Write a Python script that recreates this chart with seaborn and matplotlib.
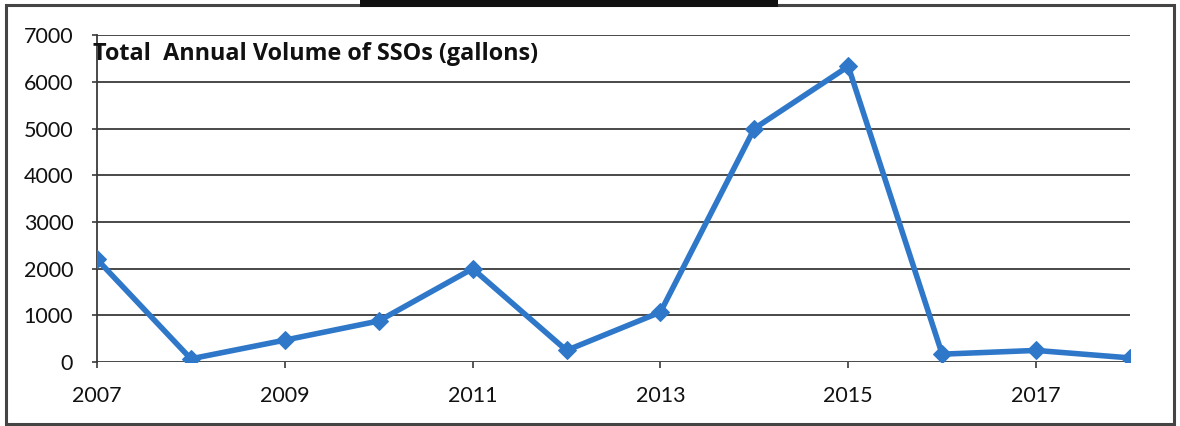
import matplotlib
matplotlib.use("Agg")
import matplotlib.pyplot as plt
import seaborn as sns
import pandas as pd
from matplotlib.patches import Rectangle

years = [2007, 2008, 2009, 2010, 2011, 2012, 2013, 2014, 2015, 2016, 2017, 2018]
volumes = [2200, 70, 470, 880, 2000, 250, 1070, 5000, 6330, 170, 250, 90]
yticks = [0, 1000, 2000, 3000, 4000, 5000, 6000, 7000]
xticks = [2007, 2009, 2011, 2013, 2015, 2017]
title = "Total  Annual Volume of SSOs (gallons)"

df = pd.DataFrame({"Year": years, "Volume": volumes})

sns.set_theme(style="white")
plt.rcParams['font.family'] = ['Lato', 'DejaVu Sans']

fig = plt.figure(figsize=(11.8, 4.26), dpi=100)
ax = fig.add_axes([0.0822, 0.150, 0.8754, 0.7676])

for y in yticks:
    ax.axhline(y, color="#3a3a3a", lw=1.3, zorder=1)

sns.lineplot(data=df, x="Year", y="Volume", ax=ax, color="#2F78C9", lw=4,
             marker="D", markersize=9, markeredgecolor="#2F78C9", zorder=3)

ax.set_xlim(2007, 2018)
ax.set_ylim(0, 7000)
ax.set_xticks(xticks)
ax.set_xticklabels([str(x) for x in xticks], fontsize=15.5)
ax.set_yticks(yticks)
ax.set_yticklabels([str(y) for y in yticks], fontsize=15.5)
ax.tick_params(axis="both", direction="out", width=1.2, color="#3a3a3a",
               left=True, bottom=True, colors="#111111")
ax.tick_params(axis="x", length=4.5, pad=13)
ax.tick_params(axis="y", length=3.6, pad=13.5)
ax.set_xlabel("")
ax.set_ylabel("")
for s in ["top", "right", "bottom"]:
    ax.spines[s].set_visible(False)
ax.spines["left"].set_color("#3a3a3a")
ax.spines["left"].set_linewidth(1.3)

ax.text(-0.004, 0.9235, title, transform=ax.transAxes, fontsize=16.8, fontweight="bold",
        ha="left", va="baseline", color="#111111", family=["Open Sans", "DejaVu Sans"])

# figure border and top underline fragment
fig.patches.append(Rectangle((0.005, 0.005), 0.99, 0.983, transform=fig.transFigure,
                             fill=False, edgecolor="#444444", lw=2.2))
fig.patches.append(Rectangle((360/1180, 1 - 7/426), 418/1180, 7/426, transform=fig.transFigure,
                             facecolor="#111111", edgecolor="none"))

fig.savefig("out.png", dpi=100, facecolor="white")
